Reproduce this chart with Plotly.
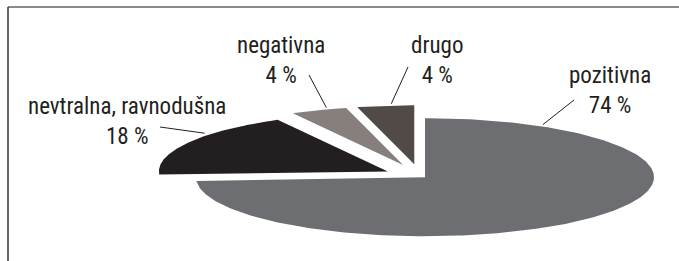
import numpy as np
import plotly.graph_objects as go

# ---- data ----
categories = ["pozitivna", "nevtralna, ravnodušna", "negativna", "drugo"]
values = [74, 18, 4, 4]
pct_labels = ["74 %", "18 %", "4 %", "4 %"]

# ---- style ----
colors = ["#6d6e71", "#231f20", "#867f7c", "#524a47"]
pulls = [0.03, 0.16, 0.2, 0.2]
W, H = 679, 261
CX, CY = 420, 176          # pie centre (axis units = pixels)
RA, RB = 229, 59           # horizontal / vertical radius of the tilted pie
FONT = "Liberation Sans Narrow, Arial Narrow, Roboto Condensed, sans-serif"
FS = 23
TXT = "#231f20"

# label layout: text centre, leader outer end, leader angle on the slice
label_pos = [(610, 90), (127, 121), (281, 60), (437, 60)]
leader_out = [(574, 100), (160, 127), (309, 75), (408, 67)]
leader_ang = [30.0, 309.0, 341.0, 354.4]

fig = go.Figure()
total = float(sum(values))
start = 0.0
apexes = []
for cat, v, col, p in zip(categories, values, colors, pulls):
    t0 = start
    t1 = start + 360.0 * v / total
    m = np.radians((t0 + t1) / 2)
    ox = CX + p * RA * np.sin(m)
    oy = CY - p * RB * np.cos(m)
    apexes.append((ox, oy))
    th = np.radians(np.linspace(t0, t1, 240))
    xs = np.concatenate([[ox], ox + RA * np.sin(th), [ox]])
    ys = np.concatenate([[oy], oy - RB * np.cos(th), [oy]])
    fig.add_trace(go.Scatter(
        x=xs, y=ys, mode="lines", fill="toself", fillcolor=col,
        line=dict(width=0, color=col), name=cat,
        hoverinfo="text", text=f"{cat}: {v} %", showlegend=False))
    start = t1

for i, cat in enumerate(categories):
    ox, oy = apexes[i]
    a = np.radians(leader_ang[i])
    px = ox + 1.03 * RA * np.sin(a)
    py = oy - 1.03 * RB * np.cos(a)
    lx, ly = leader_out[i]
    fig.add_shape(type="line", x0=lx, y0=ly, x1=px, y1=py, xref="x", yref="y",
                  line=dict(color=TXT, width=1))
    tx, ty = label_pos[i]
    fig.add_annotation(x=tx, y=ty, xref="x", yref="y", showarrow=False,
                       text=f"{cat}<br>{pct_labels[i]}", align="center",
                       xanchor="center", yanchor="middle",
                       font=dict(family=FONT, size=FS, color=TXT))

# frame lines
fig.add_shape(type="line", x0=8, y0=7, x1=W, y1=7, xref="x", yref="y",
              line=dict(color="#8a8a8a", width=2))
fig.add_shape(type="line", x0=8, y0=7, x1=8, y1=H, xref="x", yref="y",
              line=dict(color="#333333", width=1.5))

fig.update_layout(
    width=W, height=H, margin=dict(l=0, r=0, t=0, b=0),
    paper_bgcolor="white", plot_bgcolor="white",
    xaxis=dict(range=[0, W], visible=False, fixedrange=True),
    yaxis=dict(range=[H, 0], visible=False, fixedrange=True),
    showlegend=False,
)
fig.write_html("out.html",
               config={"displayModeBar": False, "staticPlot": True},
               post_script="document.body.style.margin='0px';document.body.style.overflow='hidden';")
